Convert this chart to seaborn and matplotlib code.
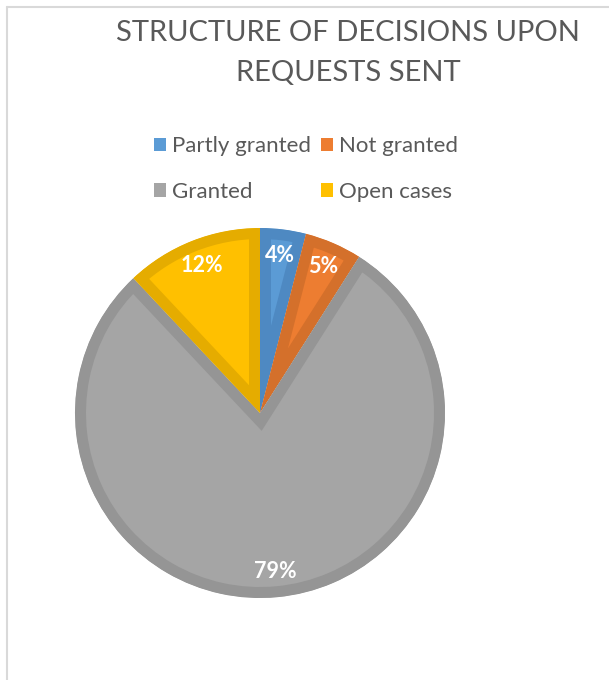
import matplotlib
matplotlib.use("Agg")
import matplotlib.pyplot as plt
import seaborn as sns
from matplotlib.patches import Patch
from matplotlib.lines import Line2D

# Data
labels = ['Partly granted', 'Not granted', 'Granted', 'Open cases']
shares = [4, 5, 79, 12]
fills = ['#5B9BD5', '#ED7D31', '#A5A5A5', '#FFC000']
borders = ['#4E89C2', '#D4702B', '#959595', '#E5AC00']
title = 'STRUCTURE OF DECISIONS UPON\nREQUESTS SENT'

sns.set_theme(style='white')
plt.rcParams['font.family'] = ['Lato', 'DejaVu Sans']

fig = plt.figure(figsize=(6.09, 6.8), dpi=100)
W, H = 609, 680

# pie centre (260, 413) px, radius 185 px
ax = fig.add_axes([(260 - 203.5) / W, (H - 413 - 203.5) / H, 407 / W, 407 / H])
wedges, texts, autotexts = ax.pie(
    shares, colors=fills, startangle=90, counterclock=False,
    autopct='%.0f%%', pctdistance=0.86, radius=1,
    textprops=dict(color='white', fontsize=15.5, fontweight='bold'))
ax.set_xlim(-1.1, 1.1)
ax.set_ylim(-1.1, 1.1)
ax.set_aspect('equal')
ax.axis('off')

# Excel-like inner border: thick edge clipped to the wedge itself
for w, c in zip(wedges, borders):
    w.set_edgecolor(c)
    w.set_linewidth(22 * 72 / 100)
    w.set_joinstyle('miter')
    w.set_clip_on(True)
    w.set_clip_path(w)

# title
fig.text(348 / W, 1 - 53 / H, title, ha='center', va='center',
         fontsize=21, color='#595959', linespacing=1.65)

# legend: row 1 Partly granted / Not granted, row 2 Granted / Open cases
order = [0, 2, 1, 3]
handles = [Patch(facecolor=fills[i], edgecolor='none', label=labels[i]) for i in order]
fig.legend(handles=handles, ncol=2, loc='center', bbox_to_anchor=(306 / W, 1 - 169 / H),
           frameon=False, fontsize=16, labelcolor='#595959',
           handlelength=0.55, handleheight=0.55, handletextpad=0.25,
           columnspacing=0.45, labelspacing=1.15)

# chart area frame
fig.add_artist(Line2D([7 / W, 7 / W], [0, 1 - 7 / H], color='#D9D9D9', lw=1.5))
fig.add_artist(Line2D([7 / W, 1], [1 - 7 / H, 1 - 7 / H], color='#D9D9D9', lw=1.5))

fig.savefig('out.png', dpi=100)
